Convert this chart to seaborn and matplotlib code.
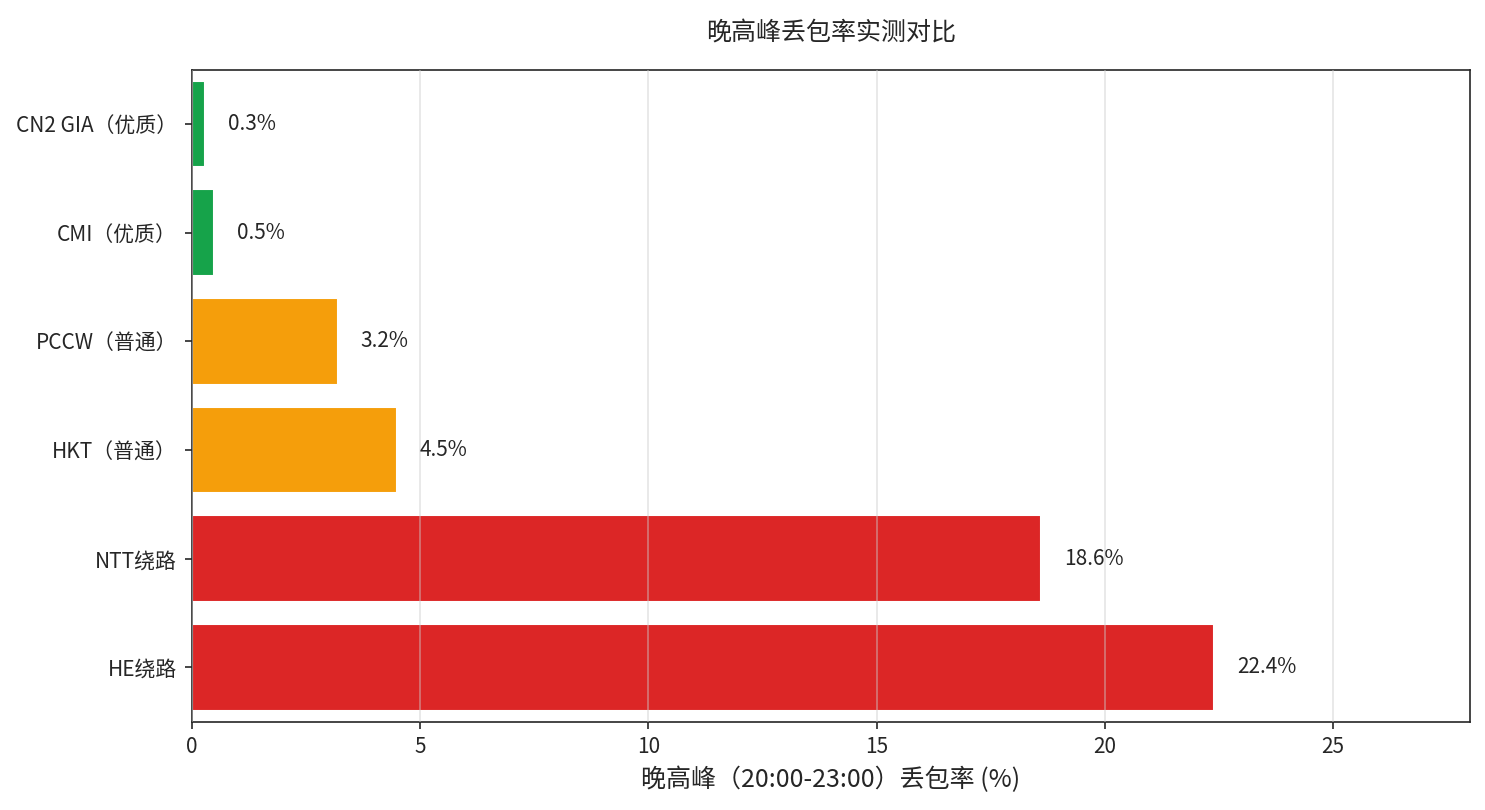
import matplotlib
matplotlib.use("Agg")
import matplotlib.pyplot as plt
import seaborn as sns
import pandas as pd

routes = ["CN2 GIA（优质）", "CMI（优质）", "PCCW（普通）", "HKT（普通）", "NTT绕路", "HE绕路"]
loss = [0.3, 0.5, 3.2, 4.5, 18.6, 22.4]
tiers = ["优质", "优质", "普通", "普通", "绕路", "绕路"]
palette = {"优质": "#16a34a", "普通": "#f59e0b", "绕路": "#dc2626"}

sns.set_style("ticks")
plt.rcParams['font.family'] = ['Noto Sans CJK SC', 'DejaVu Sans']

df = pd.DataFrame({"route": routes, "loss": loss, "tier": tiers})

fig = plt.figure(figsize=(9.9, 5.4), dpi=150)
ax = fig.add_axes([0.129, 0.109, 0.861, 0.805])
sns.barplot(data=df, y="route", x="loss", hue="tier", palette=palette,
            dodge=False, legend=False, width=0.8, saturation=1, ax=ax)
for i, v in enumerate(loss):
    ax.text(v + 0.5, i, f"{v}%", va="center", fontsize=10)
ax.set_xlim(0, 28)
ax.xaxis.grid(True, color="#cccccc", alpha=0.5, linewidth=0.8)
ax.set_axisbelow(False)
ax.set_ylabel("")
ax.set_xlabel("晚高峰（20:00-23:00）丢包率 (%)", fontsize=12)
ax.set_title("晚高峰丢包率实测对比", fontsize=12, pad=14)
ax.tick_params(labelsize=10)
fig.savefig("out.png", dpi=150)
